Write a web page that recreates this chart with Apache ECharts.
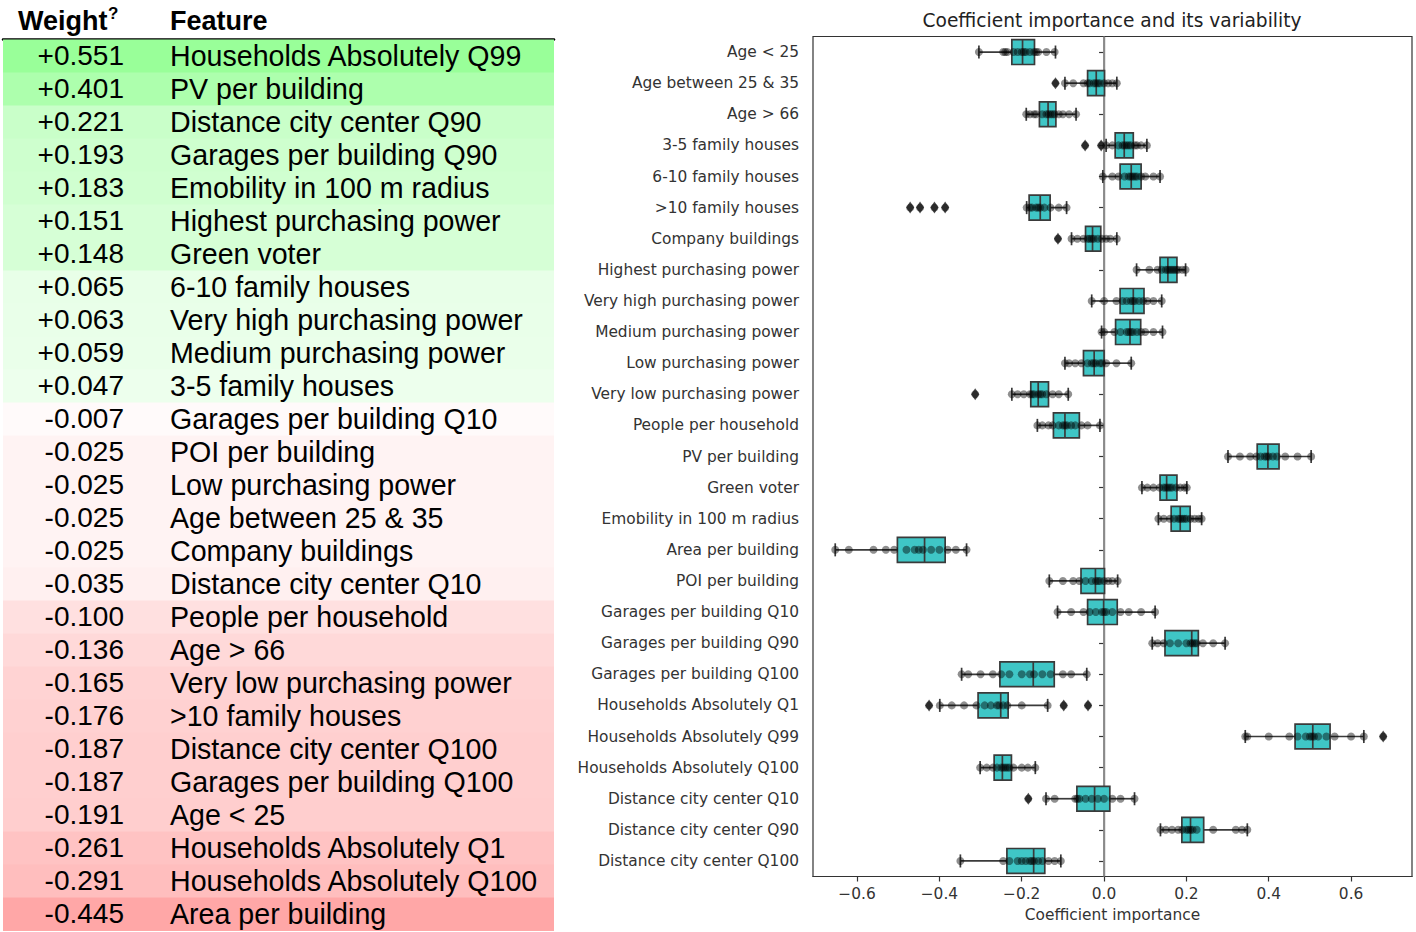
<!DOCTYPE html>
<html><head><meta charset="utf-8">
<script src="https://cdn.jsdelivr.net/npm/echarts@6/dist/echarts.min.js"></script>
<style>html,body{margin:0;padding:0;background:#fff}#c{width:1416px;height:932px}</style>
</head><body><div id="c"></div>
<script>
// ---------- Table (left) ----------
const tableFeatures = ['Households Absolutely Q99','PV per building','Distance city center Q90','Garages per building Q90','Emobility in 100 m radius','Highest purchasing power','Green voter','6-10 family houses','Very high purchasing power','Medium purchasing power','3-5 family houses','Garages per building Q10','POI per building','Low purchasing power','Age between 25 & 35','Company buildings','Distance city center Q10','People per household','Age > 66','Very low purchasing power','>10 family houses','Distance city center Q100','Garages per building Q100','Age < 25','Households Absolutely Q1','Households Absolutely Q100','Area per building'];
const tableWeights = [0.551,0.401,0.221,0.193,0.183,0.151,0.148,0.065,0.063,0.059,0.047,-0.007,-0.025,-0.025,-0.025,-0.025,-0.035,-0.100,-0.136,-0.165,-0.176,-0.187,-0.187,-0.191,-0.261,-0.291,-0.445];

// ---------- Box plot (right) ----------
const boxFeatures = ['Age < 25','Age between 25 & 35','Age > 66','3-5 family houses','6-10 family houses','>10 family houses','Company buildings','Highest purchasing power','Very high purchasing power','Medium purchasing power','Low purchasing power','Very low purchasing power','People per household','PV per building','Green voter','Emobility in 100 m radius','Area per building','POI per building','Garages per building Q10','Garages per building Q90','Garages per building Q100','Households Absolutely Q1','Households Absolutely Q99','Households Absolutely Q100','Distance city center Q10','Distance city center Q90','Distance city center Q100'];
const whiskerLow  = [-0.304,-0.095,-0.189,0.005,-0.003,-0.188,-0.079,0.079,-0.030,-0.006,-0.095,-0.224,-0.162,0.301,0.092,0.132,-0.653,-0.133,-0.113,0.117,-0.346,-0.399,0.343,-0.301,-0.141,0.137,-0.349];
const quart1      = [-0.224,-0.040,-0.157,0.027,0.039,-0.182,-0.045,0.136,0.039,0.028,-0.050,-0.178,-0.123,0.372,0.136,0.163,-0.502,-0.056,-0.040,0.148,-0.253,-0.306,0.464,-0.267,-0.066,0.189,-0.236];
const medians     = [-0.198,-0.019,-0.136,0.049,0.066,-0.155,-0.028,0.155,0.071,0.063,-0.024,-0.160,-0.095,0.398,0.152,0.185,-0.436,-0.021,-0.001,0.213,-0.172,-0.251,0.507,-0.247,-0.023,0.210,-0.171];
const quart3      = [-0.169,0.001,-0.117,0.071,0.090,-0.131,-0.008,0.177,0.097,0.089,0.000,-0.135,-0.060,0.425,0.177,0.209,-0.386,0.001,0.032,0.229,-0.121,-0.233,0.549,-0.225,0.014,0.242,-0.144];
const whiskerHigh = [-0.118,0.031,-0.068,0.104,0.136,-0.091,0.031,0.198,0.140,0.142,0.066,-0.087,-0.010,0.503,0.201,0.237,-0.334,0.033,0.124,0.294,-0.042,-0.137,0.631,-0.167,0.074,0.348,-0.105];
const outliers = [[],[-0.118],[],[-0.046,-0.007],[],[-0.471,-0.447,-0.412,-0.386],[-0.112],[],[],[],[],[-0.313],[],[],[],[],[],[],[],[],[],[-0.425,-0.098,-0.039],[0.678],[],[-0.184],[],[]];
const stripPoints = [
 [-0.304,-0.245,-0.24,-0.235,-0.22,-0.21,-0.20,-0.195,-0.19,-0.18,-0.17,-0.165,-0.16,-0.14,-0.12],
 [-0.118,-0.095,-0.075,-0.05,-0.04,-0.035,-0.025,-0.02,-0.015,-0.01,0.0,0.01,0.02,0.031],
 [-0.189,-0.18,-0.17,-0.165,-0.15,-0.14,-0.135,-0.13,-0.125,-0.12,-0.11,-0.1,-0.085,-0.068],
 [-0.046,-0.007,0.005,0.02,0.035,0.045,0.05,0.055,0.06,0.065,0.075,0.08,0.09,0.104],
 [-0.003,0.02,0.035,0.05,0.06,0.065,0.07,0.075,0.08,0.09,0.1,0.12,0.136],
 [-0.471,-0.447,-0.412,-0.386,-0.188,-0.18,-0.175,-0.165,-0.16,-0.155,-0.145,-0.13,-0.11,-0.091],
 [-0.112,-0.079,-0.065,-0.05,-0.04,-0.035,-0.03,-0.025,-0.015,-0.005,0.005,0.015,0.031],
 [0.079,0.11,0.13,0.14,0.15,0.155,0.16,0.165,0.17,0.175,0.18,0.19,0.198],
 [-0.03,0.0,0.03,0.045,0.055,0.065,0.07,0.075,0.085,0.095,0.105,0.12,0.14],
 [-0.006,0.0,0.025,0.04,0.055,0.06,0.065,0.07,0.08,0.09,0.1,0.12,0.142],
 [-0.095,-0.085,-0.07,-0.055,-0.04,-0.03,-0.025,-0.02,-0.01,-0.005,0.005,0.03,0.066],
 [-0.313,-0.224,-0.21,-0.195,-0.18,-0.175,-0.17,-0.16,-0.155,-0.15,-0.14,-0.125,-0.11,-0.087],
 [-0.162,-0.15,-0.135,-0.125,-0.11,-0.1,-0.095,-0.09,-0.08,-0.07,-0.055,-0.04,-0.01],
 [0.301,0.33,0.355,0.37,0.38,0.39,0.395,0.4,0.41,0.42,0.44,0.47,0.503],
 [0.092,0.105,0.12,0.135,0.145,0.15,0.155,0.16,0.165,0.175,0.185,0.195,0.201],
 [0.132,0.145,0.16,0.17,0.18,0.185,0.19,0.195,0.2,0.21,0.22,0.23,0.237],
 [-0.653,-0.62,-0.56,-0.53,-0.51,-0.48,-0.46,-0.45,-0.44,-0.42,-0.4,-0.38,-0.36,-0.334],
 [-0.133,-0.1,-0.075,-0.06,-0.045,-0.03,-0.02,-0.015,-0.01,0.0,0.01,0.02,0.033],
 [-0.113,-0.08,-0.05,-0.035,-0.02,-0.005,0.0,0.005,0.02,0.04,0.06,0.09,0.124],
 [0.117,0.13,0.145,0.16,0.18,0.2,0.21,0.215,0.22,0.225,0.24,0.265,0.294],
 [-0.346,-0.33,-0.3,-0.27,-0.25,-0.23,-0.2,-0.18,-0.17,-0.15,-0.13,-0.1,-0.08,-0.042],
 [-0.425,-0.399,-0.37,-0.34,-0.31,-0.29,-0.275,-0.26,-0.255,-0.245,-0.235,-0.2,-0.137,-0.098,-0.039],
 [0.343,0.348,0.4,0.45,0.47,0.49,0.5,0.505,0.51,0.52,0.54,0.56,0.6,0.631,0.678],
 [-0.301,-0.285,-0.27,-0.26,-0.25,-0.245,-0.24,-0.235,-0.23,-0.22,-0.2,-0.185,-0.167],
 [-0.184,-0.141,-0.12,-0.07,-0.065,-0.06,-0.045,-0.03,-0.015,0.0,0.02,0.04,0.074],
 [0.137,0.15,0.165,0.18,0.19,0.2,0.205,0.21,0.215,0.225,0.265,0.32,0.335,0.348],
 [-0.349,-0.245,-0.23,-0.21,-0.2,-0.19,-0.18,-0.175,-0.17,-0.16,-0.15,-0.135,-0.12,-0.105]
];
const xTicks = [-0.6,-0.4,-0.2,0,0.2,0.4,0.6];

// ---------- chart ----------
const chart = echarts.init(document.getElementById('c'), null, {renderer:'svg'});
const maxAbs = Math.max(...tableWeights.map(Math.abs));
function rowColor(w){
  const rel = Math.pow(Math.abs(w)/maxAbs, 0.7);
  const L = 100 - 20*rel;
  return 'hsl(' + (w > 0 ? 120 : 0) + ',100%,' + L.toFixed(2) + '%)';
}
function fmtWeight(w){ return (w > 0 ? '+' : '') + w.toFixed(3); }
const lineCol = '#3a3a3a';
const axisFont = {fontFamily:'DejaVu Sans', fontSize:15.4, color:'#333'};

const option = {
  animation:false,
  backgroundColor:'#fff',
  graphic:[
    {type:'text', x:18, y:21, style:{text:'Weight', font:'bold 27px "Liberation Sans"', fill:'#000', align:'left', verticalAlign:'middle'}},
    {type:'text', x:108, y:13, style:{text:'?', font:'bold 17px "Liberation Sans"', fill:'#000', align:'left', verticalAlign:'middle'}},
    {type:'text', x:170, y:21, style:{text:'Feature', font:'bold 27px "Liberation Sans"', fill:'#000', align:'left', verticalAlign:'middle'}},
    {type:'text', x:1112, y:20, style:{text:'Coefficient importance and its variability', font:'18.6px "DejaVu Sans"', fill:'#222', align:'center', verticalAlign:'middle'}}
  ],
  grid:[
    {left:813, top:36.5, width:599, height:840, show:true, borderColor:'#333', borderWidth:1.2, backgroundColor:'rgba(0,0,0,0)'},
    {left:3, top:39.5, width:551, height:891}
  ],
  xAxis:[
    {gridIndex:0, type:'value', min:-0.707, max:0.748,
     splitLine:{show:false},
     axisLine:{show:true, onZero:false, lineStyle:{color:'#333', width:1.2}},
     axisTick:{show:true, length:5, customValues:xTicks, lineStyle:{color:'#333', width:1.2}},
     axisLabel:Object.assign({customValues:xTicks, margin:10, formatter:v => (v < 0 ? '\u2212' : '') + Math.abs(v).toFixed(1)}, axisFont),
     name:'Coefficient importance', nameLocation:'middle', nameGap:31,
     nameTextStyle:Object.assign({}, axisFont)},
    {gridIndex:1, type:'value', min:0, max:1, position:'top',
     axisLine:{show:true, lineStyle:{color:'#000', width:2.5}},
     axisTick:{show:false}, axisLabel:{show:false}, splitLine:{show:false}}
  ],
  yAxis:[
    {gridIndex:0, type:'category', data:boxFeatures, inverse:true,
     axisLine:{show:true, lineStyle:{color:'#333', width:1.2}},
     axisTick:{show:true, alignWithLabel:true, length:5, lineStyle:{color:'#333', width:1.2}},
     axisLabel:Object.assign({margin:14}, axisFont),
     splitLine:{show:false}},
    {gridIndex:1, type:'category', data:tableFeatures, inverse:true, show:false}
  ],
  series:[
    // table rows
    {type:'custom', xAxisIndex:1, yAxisIndex:1, z:2,
     data: tableFeatures.map((f, i) => [0, i, tableWeights[i]]),
     encode:{x:0, y:1},
     renderItem(params, api){
       const i = api.value(1);
       const pL = api.coord([0, i]), pR = api.coord([1, i]);
       const band = api.size([0, 1])[1];
       const w = tableWeights[params.dataIndex];
       return {type:'group', children:[
         {type:'rect', shape:{x:pL[0], y:pL[1]-band/2, width:pR[0]-pL[0], height:band+0.6}, style:{fill:rowColor(w)}},
         {type:'text', style:{text:fmtWeight(w), x:pL[0]+121, y:pL[1]-0.5, align:'right', verticalAlign:'middle', font:'28px "Liberation Sans"', fill:'#000'}},
         {type:'text', style:{text:tableFeatures[params.dataIndex], x:pL[0]+167, y:pL[1]-0.5, align:'left', verticalAlign:'middle', font:'28.6px "Liberation Sans"', fill:'#000'}}
       ]};
     }},
    // zero line
    {type:'custom', xAxisIndex:0, yAxisIndex:0, z:1, data:[[0, 0]], encode:{x:0, y:1},
     renderItem(params, api){
       const p = api.coord([0, 0]);
       const cs = params.coordSys;
       return {type:'line', shape:{x1:p[0], y1:cs.y, x2:p[0], y2:cs.y+cs.height}, style:{stroke:'#8a8a8a', lineWidth:2}};
     }},
    // boxes
    {type:'custom', xAxisIndex:0, yAxisIndex:0, z:3,
     data: boxFeatures.map((f, i) => [i, whiskerLow[i], quart1[i], medians[i], quart3[i], whiskerHigh[i]]),
     encode:{y:0, x:[1,2,3,4,5]},
     renderItem(params, api){
       const i = api.value(0);
       const band = api.size([0, 1])[1];
       const bh = band*0.8, ch = band*0.42;
       const c = v => api.coord([v, i]);
       const pl = c(api.value(1)), p1 = c(api.value(2)), pm = c(api.value(3)), p3 = c(api.value(4)), ph = c(api.value(5));
       const y = pm[1];
       const ls = {stroke:lineCol, lineWidth:1.7};
       return {type:'group', children:[
         {type:'line', shape:{x1:pl[0], y1:y, x2:p1[0], y2:y}, style:ls},
         {type:'line', shape:{x1:p3[0], y1:y, x2:ph[0], y2:y}, style:ls},
         {type:'line', shape:{x1:pl[0], y1:y-ch/2, x2:pl[0], y2:y+ch/2}, style:ls},
         {type:'line', shape:{x1:ph[0], y1:y-ch/2, x2:ph[0], y2:y+ch/2}, style:ls},
         {type:'rect', shape:{x:p1[0], y:y-bh/2, width:p3[0]-p1[0], height:bh}, style:{fill:'#3fc6c6', stroke:lineCol, lineWidth:1.7}},
         {type:'line', shape:{x1:pm[0], y1:y-bh/2, x2:pm[0], y2:y+bh/2}, style:ls}
       ]};
     }},
    // fliers
    {type:'scatter', xAxisIndex:0, yAxisIndex:0, z:4, symbol:'diamond', symbolSize:[8,12],
     itemStyle:{color:'#222'},
     data: outliers.flatMap((arr, i) => arr.map(v => [v, i]))},
    // strip points
    {type:'scatter', xAxisIndex:0, yAxisIndex:0, z:5, symbol:'circle', symbolSize:8,
     itemStyle:{color:'rgba(0,0,0,0.55)'},
     data: stripPoints.flatMap((arr, i) => arr.map(v => [v, i]))}
  ]
};
chart.setOption(option);
</script>
</body></html>
